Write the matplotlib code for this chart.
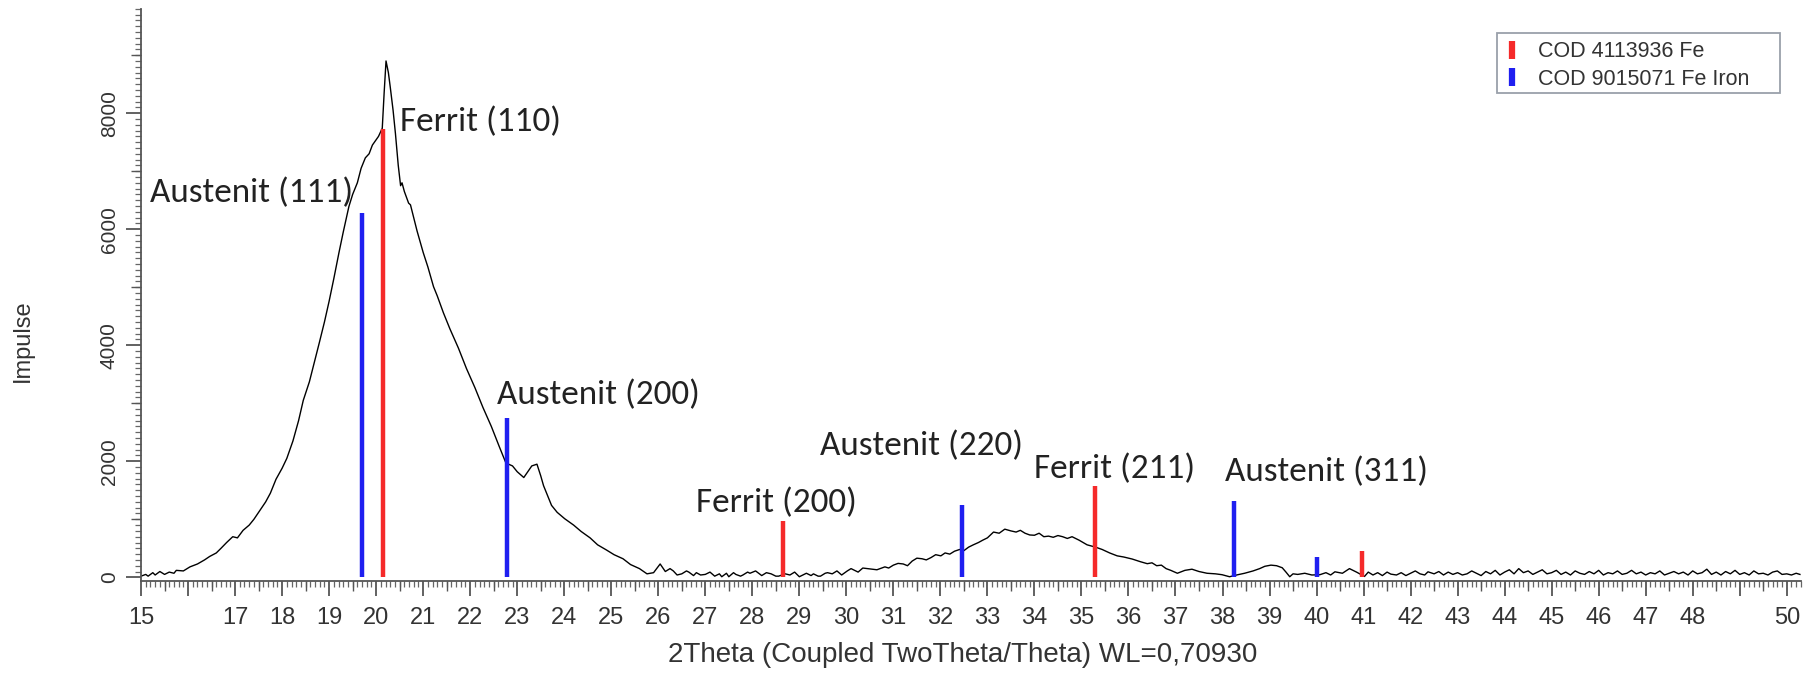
import numpy as np
import matplotlib
matplotlib.use("Agg")
import matplotlib.pyplot as plt
from matplotlib import font_manager
from matplotlib.ticker import MultipleLocator, FixedLocator, FuncFormatter
from matplotlib.lines import Line2D, TICKDOWN, TICKLEFT
from matplotlib.patches import Rectangle
import matplotlib.transforms as mtransforms

# measured pattern, 2theta in degrees and counts
two_theta = [
    15.0, 15.1, 15.15, 15.25, 15.3, 15.4, 15.5, 15.6, 15.7, 15.75, 15.9, 16.04,
    16.2, 16.35, 16.46, 16.6, 16.7, 16.82, 16.95, 17.05, 17.17, 17.3, 17.4, 17.52,
    17.65, 17.75, 17.87, 18.0, 18.1, 18.23, 18.35, 18.45, 18.58, 18.7, 18.79, 18.9,
    19.0, 19.1, 19.21, 19.3, 19.42, 19.5, 19.6, 19.68, 19.77, 19.85, 19.92, 19.99,
    20.05, 20.13, 20.17, 20.21, 20.26, 20.3, 20.36, 20.41, 20.47, 20.52, 20.55, 20.6,
    20.69, 20.73, 20.87, 21.0, 21.1, 21.22, 21.3, 21.43, 21.57, 21.75, 21.92, 22.1,
    22.27, 22.45, 22.62, 22.76, 22.9, 23.0, 23.14, 23.25, 23.31, 23.42, 23.5, 23.56,
    23.73, 23.85, 24.01, 24.2, 24.36, 24.55, 24.71, 24.9, 25.06, 25.25, 25.41, 25.6,
    25.76, 25.9, 26.04, 26.15, 26.25, 26.32, 26.4, 26.5, 26.6, 26.65, 26.75, 26.81,
    26.9, 27.0, 27.1, 27.2, 27.3, 27.35, 27.45, 27.5, 27.6, 27.65, 27.75, 27.8,
    27.9, 27.95, 28.07, 28.2, 28.3, 28.4, 28.5, 28.56, 28.7, 28.8, 28.9, 29.0,
    29.1, 29.15, 29.25, 29.3, 29.4, 29.45, 29.55, 29.6, 29.7, 29.8, 29.9, 30.02,
    30.1, 30.25, 30.35, 30.5, 30.65, 30.82, 30.9, 31.0, 31.1, 31.21, 31.3, 31.4,
    31.5, 31.61, 31.7, 31.8, 31.9, 32.01, 32.1, 32.2, 32.3, 32.41, 32.5, 32.6,
    32.7, 32.81, 32.9, 33.0, 33.13, 33.25, 33.37, 33.5, 33.61, 33.7, 33.8, 33.9,
    34.0, 34.1, 34.2, 34.3, 34.4, 34.5, 34.6, 34.7, 34.8, 34.95, 35.12, 35.3,
    35.44, 35.6, 35.76, 35.9, 36.08, 36.25, 36.4, 36.5, 36.6, 36.7, 36.8, 36.9,
    37.04, 37.2, 37.35, 37.5, 37.67, 37.85, 37.99, 38.15, 38.3, 38.47, 38.65, 38.79,
    38.9, 39.03, 39.15, 39.27, 39.35, 39.43, 39.5, 39.6, 39.75, 39.9, 40.07, 40.2,
    40.3, 40.39, 40.55, 40.7, 40.85, 41.02, 41.1, 41.2, 41.3, 41.4, 41.5, 41.58,
    41.7, 41.8, 41.9, 42.0, 42.1, 42.2, 42.3, 42.37, 42.5, 42.6, 42.7, 42.8,
    42.9, 43.0, 43.1, 43.2, 43.3, 43.4, 43.5, 43.6, 43.7, 43.8, 43.9, 44.0,
    44.1, 44.2, 44.3, 44.4, 44.5, 44.6, 44.7, 44.8, 44.9, 45.0, 45.1, 45.2,
    45.3, 45.4, 45.5, 45.6, 45.7, 45.8, 45.9, 46.0, 46.1, 46.2, 46.3, 46.4,
    46.5, 46.6, 46.7, 46.8, 46.9, 47.0, 47.1, 47.2, 47.3, 47.4, 47.5, 47.6,
    47.7, 47.8, 47.9, 48.0, 48.1, 48.2, 48.3, 48.4, 48.5, 48.6, 48.7, 48.8,
    48.9, 49.0, 49.1, 49.2, 49.3, 49.4, 49.5, 49.6, 49.7, 49.8, 49.9, 50.0,
    50.1, 50.2, 50.28,
]
counts = [
    20, 50, 20, 80, 40, 100, 50, 90, 70, 120, 110, 180,
    230, 300, 360, 420, 500, 600, 700, 680, 810, 900, 1000, 1145,
    1300, 1450, 1690, 1880, 2050, 2350, 2700, 3050, 3370, 3750, 4040, 4400,
    4760, 5150, 5600, 5950, 6390, 6600, 6800, 7050, 7230, 7300, 7450, 7530,
    7600, 7740, 8350, 8900, 8700, 8450, 8050, 7650, 7100, 6750, 6800, 6650,
    6450, 6420, 5970, 5600, 5350, 5010, 4850, 4560, 4280, 3950, 3600, 3270,
    2930, 2600, 2250, 1970, 1920, 1820, 1720, 1850, 1920, 1950, 1750, 1580,
    1240, 1120, 1010, 900, 790, 680, 560, 470, 390, 320, 220, 150,
    60, 80, 230, 100, 150, 110, 40, 60, 110, 90, 30, 80,
    40, 50, 90, 20, 60, 10, 70, 10, 80, 50, 20, 40,
    90, 70, 110, 30, 80, 60, 20, 20, 60, 40, 90, 10,
    50, 70, 30, 60, 20, 20, 70, 80, 60, 110, 40, 110,
    150, 90, 160, 145, 130, 180, 160, 210, 240, 230, 200, 280,
    330, 320, 300, 340, 390, 370, 420, 400, 450, 480, 460, 520,
    560, 600, 640, 680, 780, 760, 830, 800, 780, 810, 760, 730,
    725, 760, 700, 710, 690, 720, 700, 670, 700, 640, 560, 520,
    480, 420, 370, 350, 315, 270, 235, 250, 200, 210, 150, 120,
    70, 120, 140, 100, 70, 60, 45, 10, 40, 70, 110, 150,
    190, 210, 200, 165, 90, 10, 60, 50, 70, 40, 45, 80,
    40, 95, 70, 150, 90, 15, 90, 40, 80, 30, 90, 55,
    40, 80, 30, 70, 110, 60, 40, 95, 60, 100, 40, 90,
    50, 80, 40, 60, 110, 70, 30, 100, 60, 120, 40, 90,
    130, 60, 150, 80, 110, 50, 90, 130, 60, 80, 120, 50,
    90, 40, 110, 70, 50, 100, 60, 120, 40, 80, 60, 110,
    50, 70, 120, 60, 90, 40, 80, 60, 110, 40, 70, 100,
    60, 90, 40, 110, 60, 80, 140, 50, 90, 40, 100, 60,
    120, 50, 80, 40, 110, 60, 70, 40, 90, 110, 50, 60,
    40, 70, 50,
]

# reference cards
fe_pos = [20.15, 28.65, 35.28, 40.97]
fe_int = [7730, 965, 1570, 450]
iron_pos = [19.70, 22.79, 32.45, 38.25, 40.02]
iron_int = [6280, 2750, 1250, 1310, 350]
card_names = ["COD 4113936 Fe", "COD 9015071 Fe Iron"]

peak_labels = ["Austenit (111)", "Ferrit (110)", "Austenit (200)", "Ferrit (200)",
               "Austenit (220)", "Ferrit (211)", "Austenit (311)"]
label_x = [15.2, 20.5, 22.58, 26.8, 29.44, 34.0, 38.05]
label_y = [6620, 7850, 3140, 1280, 2260, 1870, 1810]

installed = {f.name for f in font_manager.fontManager.ttflist}
label_font = "Carlito" if "Carlito" in installed else "Lato"
sans = ["Liberation Sans", "DejaVu Sans"]

red = "#f52a2a"
blue = "#1f1ff0"
grey = "#555555"

fig = plt.figure(figsize=(18.13, 6.73), dpi=100)
ax = fig.add_axes([0.0778, 0.137, 0.9155, 0.85])

ax.plot(two_theta, counts, color="black", lw=1.0, zorder=2)
ax.vlines(fe_pos, 0, fe_int, color=red, lw=3.2, zorder=3)
ax.vlines(iron_pos, 0, iron_int, color=blue, lw=3.2, zorder=3)

ax.set_xlim(15, 50.3)
ax.set_ylim(-60, 9800)

# peak names, sized so "Austenit (200)" is about 202 px wide
texts = []
for txt, x, y in zip(peak_labels, label_x, label_y):
    t = ax.text(x, y, txt, fontsize=20, family=[label_font, "DejaVu Sans"],
                color="#222222", ha="left", va="center", zorder=4)
    texts.append(t)
renderer = fig.canvas.get_renderer()
w = texts[2].get_window_extent(renderer).width
for t in texts:
    t.set_fontsize(20 * 202 / w)

for s in ["top", "right"]:
    ax.spines[s].set_visible(False)
for s in ["left", "bottom"]:
    ax.spines[s].set_color(grey)
    ax.spines[s].set_linewidth(1.3)

ax.xaxis.set_major_locator(FixedLocator(range(15, 51)))
ax.xaxis.set_major_formatter(FuncFormatter(lambda v, p: "" if int(round(v)) in (16, 49) else "%d" % v))
ax.xaxis.set_minor_locator(MultipleLocator(0.1))
ax.yaxis.set_major_locator(MultipleLocator(2000))
ax.yaxis.set_minor_locator(MultipleLocator(100))

ax.tick_params(axis="both", which="major", length=11, width=1.3, color=grey,
               labelcolor="#333333")
ax.tick_params(axis="both", which="minor", length=4.5, width=0.9, color="#666666")
ax.tick_params(axis="x", which="major", labelsize=17, pad=8)
ax.tick_params(axis="y", which="major", labelsize=15, pad=5)
for lab in ax.get_yticklabels():
    lab.set_rotation(90)
    lab.set_va("center")
for lab in ax.get_xticklabels() + ax.get_yticklabels():
    lab.set_family(sans)

# half-step ticks a bit longer than the minor ones
bx = mtransforms.blended_transform_factory(ax.transData, ax.transAxes)
by = mtransforms.blended_transform_factory(ax.transAxes, ax.transData)
half_x = np.arange(15.5, 50.3, 1.0)
ax.plot(half_x, np.zeros_like(half_x), ls="none", marker=TICKDOWN, ms=7.5, mew=1.0,
        color=grey, transform=bx, clip_on=False)
half_y = np.arange(1000, 9800, 2000)
ax.plot(np.zeros_like(half_y), half_y, ls="none", marker=TICKLEFT, ms=7.5, mew=1.0,
        color=grey, transform=by, clip_on=False)

ax.set_xlabel("2Theta (Coupled TwoTheta/Theta) WL=0,70930", fontsize=20,
              family=sans, color="#333333")
ax.xaxis.set_label_coords(0.495, -0.129)
ax.xaxis.label.set_va("center")
ax.set_ylabel("Impulse", fontsize=17, family=sans, color="#333333")
ax.yaxis.set_label_coords(-0.071, 0.42)
ax.yaxis.label.set_va("center")

# legend box with extra room on the right
ax.add_patch(Rectangle((0.8169, 0.853), 0.1704, 0.105, transform=ax.transAxes,
                       facecolor="white", edgecolor="#9aa0aa", lw=1.3, zorder=5))
handles = [Line2D([0], [0], color=c, lw=0, marker="|", markersize=13, mew=4.5)
           for c in (red, blue)]
leg = ax.legend(handles, card_names, loc="upper left", bbox_to_anchor=(0.8169, 0.958),
                borderaxespad=0, frameon=False, prop={"family": sans, "size": 15.5},
                handlelength=0.6, handletextpad=0.9, labelspacing=0.3, borderpad=0.4)
leg.set_zorder(6)
for t in leg.get_texts():
    t.set_color("#333333")

fig.savefig("out.png", dpi=100)
